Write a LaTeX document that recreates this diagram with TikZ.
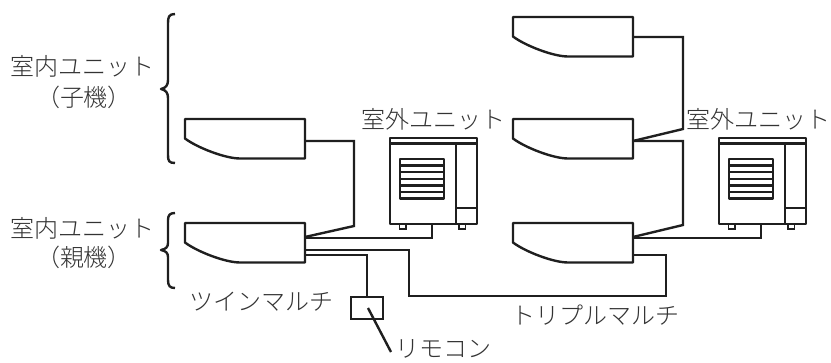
\documentclass[tikz,border=0pt]{standalone}
\usepackage{fontspec}
\newfontfamily\jp{Noto Sans CJK JP Light}
\newcommand{\indoorunit}[3]{%
  \draw[unitline] (#2,#3) -- ++(120,0) -- ++(0,39.5) -- ++(-65,0)
    .. controls +(-15,0) and +(12,9) .. (#2,#3+19.5) -- cycle;
  \coordinate (#1-top) at (#2+120,#3+20);
  \coordinate (#1-a) at (#2+120,#3+22);
  \coordinate (#1-c) at (#2+120,#3+14);
  \coordinate (#1-f) at (#2+120,#3+15);
  \coordinate (#1-d) at (#2+120,#3+27);
  \coordinate (#1-e) at (#2+120,#3+32);
}
\newcommand{\outdoorunit}[3]{%
  \draw[unitline] (#2,#3) rectangle ++(87,86);
  \draw[unitline] (#2,#3+5.5) -- ++(87,0);
  \draw[unitline] (#2+66,#3+5.5) -- ++(0,80.5);
  \draw[unitline] (#2+66,#3+70) -- ++(21,0);
  \draw[unitline] (#2+10,#3+21) rectangle ++(44,39.5);
  \foreach \k in {1,...,5} \draw[unitline] (#2+10,#3+21+6.6*\k) -- ++(44,0);
  \draw[footline] (#2+9.5,#3+86) rectangle ++(6.5,5);
  \draw[footline] (#2+69,#3+86) rectangle ++(6.5,5);
  \coordinate (#1-port) at (#2+42,#3+86);
}
\tikzset{
  unitline/.style={line width=2.4pt,draw=black!88,line join=round},
  footline/.style={line width=1.7pt,draw=black!88},
  wire/.style={line width=2.4pt,draw=black!88,line join=miter},
  bracket/.style={line width=2.4pt,draw=black!88,line join=round},
  label/.style={font=\jp\fontsize{24}{26}\selectfont,text=black!80,inner sep=0pt}
}
\begin{document}
\begin{tikzpicture}[x=1pt,y=-1pt]
\useasboundingbox (0,0) rectangle (831,362);
\indoorunit{A}{185}{119}
\indoorunit{B}{185}{223}
\indoorunit{C}{513}{17}
\indoorunit{D}{513}{119}
\indoorunit{E}{513}{223}
\outdoorunit{O}{390}{138}
\outdoorunit{P}{719}{138}
% remote
\node[draw=black!88,line width=2.4pt,minimum width=32pt,minimum height=22pt,inner sep=0pt] (R) at (367,308) {};
\coordinate (Rtip) at (368,308);
\coordinate (Rend) at (391,352);
\draw[wire] (Rtip) -- (Rend);
% left connectors
\draw[wire] (A-a) -- (354,141) -- (354,226) -- (B-c);
\draw[wire] (B-f) -| (O-port);
\draw[wire] (B-d) -- (409,250) -- (409,296) -- (666,296) -- (666,255) -- (E-e);
\draw[wire] (B-e) -- (367,255) -- (R.north);
% right connectors
\draw[wire] (C-top) -- (683,37) -- (683,129) -- (D-a);
\draw[wire] (D-a) -- (683,141) -- (683,225) -- (E-c);
\draw[wire] (E-f) -| (P-port);
% braces
\draw[bracket] (175,14) .. controls (169,14) and (168,17) .. (168,23) -- (168,80)
  .. controls (168,85) and (166,88) .. (161,89) .. controls (166,90) and (168,93) .. (168,98)
  -- (168,155) .. controls (168,161) and (169,163) .. (175,163);
\draw[bracket] (175,213) .. controls (170,213) and (168,215) .. (168,220) -- (168,243)
  .. controls (168,247) and (166,249) .. (161,250) .. controls (166,251) and (168,253) .. (168,257)
  -- (168,280) .. controls (168,286) and (170,288) .. (175,288);
% labels
\node[label] (l1) at (82.5,66) {室内ユニット};
\node[label] (l2) at (84,97) {（子機）};
\node[label] (l3) at (82.5,228) {室内ユニット};
\node[label] (l4) at (84,257) {（親機）};
\node[label] (l5) at (433,119) {室外ユニット};
\node[label] (l6) at (758.5,119) {室外ユニット};
\node[label] (l7) at (261,302) {ツインマルチ};
\node[label] (l8) at (595,315) {トリプルマルチ};
\node[label] (l9) at (443,349) {リモコン};
\end{tikzpicture}
\end{document}
